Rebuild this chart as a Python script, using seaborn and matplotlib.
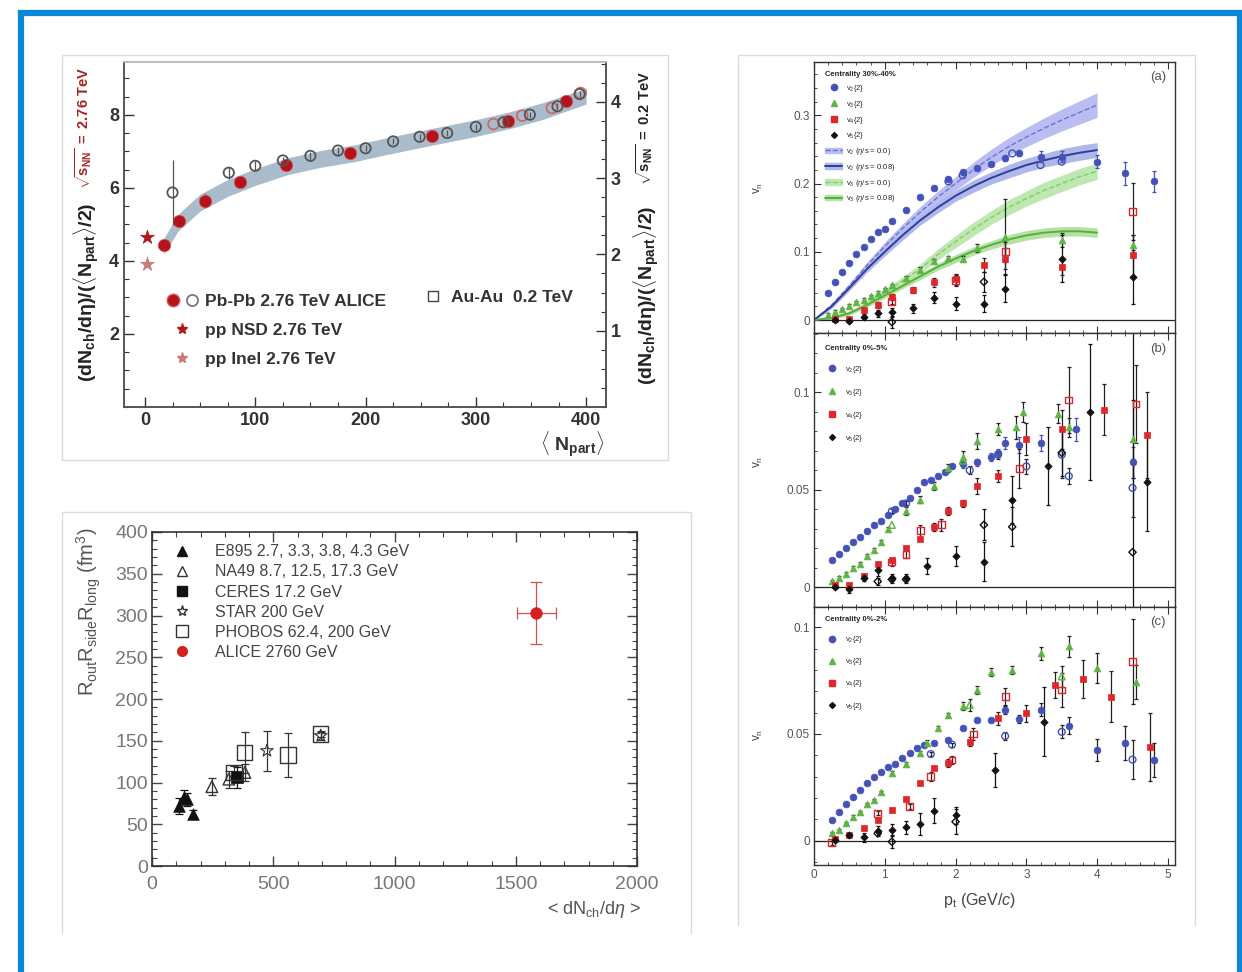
import numpy as np
import pandas as pd
import matplotlib
matplotlib.use('Agg')
import matplotlib.pyplot as plt
import seaborn as sns
from matplotlib.patches import Rectangle, Patch
from matplotlib.lines import Line2D
from matplotlib.legend_handler import HandlerTuple
from matplotlib.ticker import MultipleLocator

sns.set_theme(style='ticks')
plt.rcParams['font.family'] = ['Liberation Sans', 'DejaVu Sans']
plt.rcParams['mathtext.fontset'] = 'custom'
plt.rcParams['mathtext.rm'] = 'Liberation Sans'
plt.rcParams['mathtext.it'] = 'Liberation Sans:italic'
plt.rcParams['mathtext.bf'] = 'Liberation Sans:bold'
plt.rcParams['xtick.direction'] = 'in'
plt.rcParams['ytick.direction'] = 'in'

# ---------------- top left: dNch/deta per participant pair ----------------
pbpb_npart = [17, 31, 54, 86, 128, 186, 260, 329, 382]
pbpb_val = [4.43, 5.10, 5.65, 6.15, 6.63, 6.95, 7.43, 7.84, 8.37]
pbpb_err = [0.12, 0.12, 0.2, 0.12, 0.12, 0.1, 0.1, 0.1, 0.1]
pbpb_open_npart = [316, 342, 369, 395]
pbpb_open_val = [7.75, 7.98, 8.19, 8.60]
auau_npart = [25, 76, 100, 125, 150, 175, 200, 225, 249, 274, 300, 325, 349, 374, 394]
auau_val = [2.81, 3.07, 3.16, 3.23, 3.29, 3.36, 3.39, 3.48, 3.54, 3.59, 3.67, 3.73, 3.83, 3.94, 4.10]  # right axis
auau_err = [0.42, 0.08, 0.06, 0.05, 0.05, 0.04, 0.04, 0.04, 0.04, 0.04, 0.04, 0.04, 0.04, 0.04, 0.04]
pp_npart = [2]
pp_nsd = [4.66]
pp_inel = [3.93]
band_x = [17, 30, 50, 75, 100, 130, 160, 190, 220, 260, 300, 330, 360, 400]
band_lo = [4.18, 4.82, 5.37, 5.77, 6.07, 6.37, 6.57, 6.72, 6.92, 7.17, 7.41, 7.62, 7.87, 8.30]
band_hi = [4.62, 5.28, 5.83, 6.23, 6.53, 6.83, 7.03, 7.18, 7.38, 7.63, 7.87, 8.08, 8.33, 8.73]

# ---------------- bottom left: HBT volume ----------------
e895_x = [110, 130, 145, 170]
e895_y = [72, 83, 80, 62]
e895_err = [10, 8, 8, 5]
na49_x = [247, 317, 383]
na49_y = [95, 104, 112]
na49_err = [10, 10, 10]
ceres_x = [350]
ceres_y = [106]
ceres_err = [12]
star_x = [474, 696]
star_y = [138, 156]
star_err = [24, 5]
phobos_x = [338, 383, 561, 696]
phobos_y = [112, 136, 133, 158]
phobos_err = [8, 25, 26, 4]
alice_x = [1584]
alice_y = [303]
alice_xerr = [80]
alice_yerr = [37]

# ---------------- right (a): centrality 30-40% ----------------
a_v2_pt = [0.2, 0.3, 0.4, 0.5, 0.6, 0.7, 0.8, 0.9, 1.0, 1.1, 1.3, 1.5, 1.7, 1.9, 2.1, 2.3, 2.5, 2.7, 2.9, 3.2, 3.5, 4.0, 4.4, 4.8]
a_v2 = [0.040, 0.055, 0.070, 0.084, 0.096, 0.107, 0.119, 0.129, 0.134, 0.145, 0.161, 0.180, 0.193, 0.207, 0.217, 0.223, 0.229, 0.237, 0.244, 0.239, 0.239, 0.232, 0.215, 0.203]
a_v2_err = [0.002, 0.002, 0.002, 0.002, 0.002, 0.002, 0.002, 0.002, 0.002, 0.002, 0.002, 0.002, 0.002, 0.002, 0.003, 0.003, 0.003, 0.004, 0.004, 0.008, 0.008, 0.010, 0.017, 0.015]
a_v2o_pt = [1.9, 2.1, 2.8, 3.2, 3.5]
a_v2o = [0.203, 0.212, 0.244, 0.227, 0.232]
a_v3_pt = [0.2, 0.3, 0.4, 0.5, 0.6, 0.7, 0.8, 0.9, 1.0, 1.1, 1.3, 1.5, 1.7, 1.9, 2.1, 2.3, 2.7, 3.5, 4.5]
a_v3 = [0.008, 0.012, 0.016, 0.021, 0.026, 0.030, 0.035, 0.040, 0.045, 0.051, 0.062, 0.074, 0.087, 0.091, 0.090, 0.106, 0.122, 0.117, 0.110]
a_v3_err = [0.002, 0.002, 0.002, 0.002, 0.002, 0.002, 0.002, 0.002, 0.002, 0.002, 0.003, 0.003, 0.003, 0.003, 0.004, 0.006, 0.055, 0.010, 0.015]
a_v4_pt = [0.3, 0.5, 0.7, 0.9, 1.1, 1.4, 1.7, 2.0, 2.4, 2.7, 3.5, 4.5]
a_v4 = [0.001, 0.002, 0.015, 0.022, 0.034, 0.044, 0.055, 0.060, 0.081, 0.090, 0.078, 0.095]
a_v4_err = [0.002, 0.002, 0.003, 0.004, 0.004, 0.005, 0.006, 0.008, 0.010, 0.015, 0.012, 0.030]
a_v4o_pt = [1.1, 2.0, 2.7, 4.5]
a_v4o = [0.027, 0.058, 0.100, 0.159]
a_v4o_err = [0.004, 0.008, 0.015, 0.042]
a_v5_pt = [0.3, 0.5, 0.7, 0.9, 1.1, 1.4, 1.7, 2.0, 2.4, 2.7, 3.5, 4.5]
a_v5 = [0.000, -0.002, 0.005, 0.010, 0.012, 0.017, 0.033, 0.024, 0.024, 0.046, 0.090, 0.063]
a_v5_err = [0.002, 0.003, 0.004, 0.005, 0.006, 0.007, 0.008, 0.010, 0.012, 0.020, 0.035, 0.040]
a_v5o_pt = [1.1, 2.4]
a_v5o = [-0.003, 0.056]
a_v5o_err = [0.008, 0.015]
hyd_pt = [0.0, 0.25, 0.5, 0.75, 1.0, 1.25, 1.5, 1.75, 2.0, 2.25, 2.5, 2.75, 3.0, 3.25, 3.5, 3.75, 4.0]
v2_ideal = [0.0, 0.022, 0.050, 0.080, 0.108, 0.134, 0.158, 0.180, 0.200, 0.220, 0.238, 0.254, 0.268, 0.281, 0.293, 0.304, 0.315]
v2_ideal_w = [0.001, 0.003, 0.004, 0.005, 0.006, 0.007, 0.008, 0.009, 0.010, 0.011, 0.012, 0.013, 0.014, 0.015, 0.016, 0.017, 0.018]
v2_visc = [0.0, 0.020, 0.047, 0.075, 0.100, 0.124, 0.146, 0.165, 0.182, 0.196, 0.208, 0.218, 0.227, 0.234, 0.240, 0.245, 0.249]
v2_visc_w = [0.001, 0.003, 0.004, 0.005, 0.006, 0.007, 0.007, 0.008, 0.008, 0.009, 0.009, 0.010, 0.010, 0.010, 0.011, 0.011, 0.011]
v3_ideal = [0.0, 0.003, 0.010, 0.024, 0.040, 0.057, 0.075, 0.096, 0.115, 0.133, 0.150, 0.165, 0.178, 0.190, 0.200, 0.210, 0.218]
v3_ideal_w = [0.001, 0.002, 0.003, 0.004, 0.005, 0.006, 0.007, 0.008, 0.009, 0.010, 0.010, 0.011, 0.011, 0.012, 0.012, 0.012, 0.012]
v3_visc = [0.0, 0.003, 0.010, 0.022, 0.036, 0.050, 0.064, 0.078, 0.090, 0.101, 0.110, 0.118, 0.124, 0.128, 0.130, 0.130, 0.128]
v3_visc_w = [0.001, 0.002, 0.003, 0.003, 0.004, 0.004, 0.005, 0.005, 0.006, 0.006, 0.006, 0.007, 0.007, 0.007, 0.007, 0.007, 0.007]

# ---------------- right (b): centrality 0-5% ----------------
b_v2_pt = [0.25, 0.35, 0.45, 0.55, 0.65, 0.75, 0.85, 0.95, 1.05, 1.15, 1.25, 1.35, 1.45, 1.55, 1.65, 1.75, 1.85, 1.95, 2.1, 2.3, 2.5, 2.6, 2.7, 2.9, 3.2, 3.7, 4.5]
b_v2 = [0.014, 0.017, 0.020, 0.023, 0.026, 0.029, 0.032, 0.034, 0.037, 0.040, 0.043, 0.046, 0.050, 0.054, 0.055, 0.057, 0.059, 0.062, 0.063, 0.064, 0.067, 0.069, 0.074, 0.073, 0.074, 0.081, 0.064]
b_v2_err = [0.001, 0.001, 0.001, 0.001, 0.001, 0.001, 0.001, 0.001, 0.001, 0.001, 0.001, 0.001, 0.001, 0.001, 0.001, 0.001, 0.001, 0.001, 0.002, 0.002, 0.002, 0.002, 0.003, 0.004, 0.004, 0.006, 0.008]
b_v2o_pt = [1.1, 1.3, 2.2, 2.6, 3.0, 3.5, 3.6, 4.5]
b_v2o = [0.039, 0.043, 0.060, 0.068, 0.062, 0.068, 0.057, 0.051]
b_v2o_err = [0.001, 0.001, 0.002, 0.002, 0.004, 0.012, 0.004, 0.015]
b_v3_pt = [0.25, 0.35, 0.45, 0.55, 0.65, 0.75, 0.85, 0.95, 1.05, 1.3, 1.5, 1.7, 1.9, 2.1, 2.3, 2.6, 2.85, 2.95, 3.45, 3.6, 4.5]
b_v3 = [0.003, 0.005, 0.007, 0.010, 0.012, 0.016, 0.019, 0.023, 0.030, 0.039, 0.045, 0.052, 0.061, 0.067, 0.075, 0.081, 0.082, 0.090, 0.089, 0.082, 0.076]
b_v3_err = [0.001, 0.001, 0.001, 0.001, 0.001, 0.001, 0.001, 0.001, 0.001, 0.002, 0.002, 0.002, 0.002, 0.003, 0.004, 0.003, 0.006, 0.005, 0.005, 0.005, 0.020]
b_v3o_pt = [1.1, 2.1]
b_v3o = [0.032, 0.065]
b_v4_pt = [0.3, 0.5, 0.7, 0.9, 1.1, 1.3, 1.5, 1.7, 1.9, 2.1, 2.3, 2.6, 3.0, 3.5, 4.1, 4.7]
b_v4 = [0.001, 0.001, 0.006, 0.012, 0.014, 0.020, 0.025, 0.031, 0.039, 0.043, 0.052, 0.057, 0.076, 0.081, 0.091, 0.078]
b_v4_err = [0.001, 0.001, 0.001, 0.001, 0.001, 0.001, 0.001, 0.002, 0.002, 0.002, 0.004, 0.003, 0.008, 0.010, 0.013, 0.022]
b_v4o_pt = [1.1, 1.3, 1.5, 1.8, 2.9, 3.6, 4.55]
b_v4o = [0.013, 0.017, 0.029, 0.032, 0.061, 0.096, 0.094]
b_v4o_err = [0.002, 0.002, 0.003, 0.003, 0.010, 0.017, 0.020]
b_v5_pt = [0.3, 0.5, 0.7, 0.9, 1.1, 1.3, 1.6, 2.0, 2.4, 2.8, 3.3, 3.9, 4.7]
b_v5 = [0.000, -0.001, 0.005, 0.009, 0.005, 0.005, 0.011, 0.016, 0.013, 0.045, 0.062, 0.090, 0.054]
b_v5_err = [0.001, 0.002, 0.002, 0.003, 0.002, 0.002, 0.004, 0.005, 0.010, 0.012, 0.020, 0.035, 0.025]
b_v5o_pt = [0.9, 1.1, 1.3, 2.4, 2.8, 3.5, 4.5]
b_v5o = [0.003, 0.004, 0.004, 0.032, 0.031, 0.069, 0.018]
b_v5o_err = [0.002, 0.002, 0.002, 0.008, 0.010, 0.012, 0.140]

# ---------------- right (c): centrality 0-2% ----------------
c_v2_pt = [0.25, 0.35, 0.45, 0.55, 0.65, 0.75, 0.85, 0.95, 1.05, 1.15, 1.25, 1.35, 1.45, 1.55, 1.7, 1.9, 2.1, 2.3, 2.5, 2.7, 2.9, 3.2, 3.6, 4.0, 4.4, 4.8]
c_v2 = [0.0097, 0.0133, 0.0172, 0.0203, 0.0237, 0.0272, 0.0297, 0.0323, 0.0347, 0.036, 0.0386, 0.041, 0.0433, 0.0448, 0.0456, 0.0472, 0.0527, 0.0566, 0.0566, 0.0613, 0.057, 0.0613, 0.0538, 0.0425, 0.0456, 0.038]
c_v2_err = [0.0005, 0.0005, 0.0005, 0.0005, 0.0005, 0.0005, 0.0005, 0.0005, 0.0005, 0.0005, 0.0005, 0.0005, 0.0005, 0.0005, 0.0005, 0.0005, 0.001, 0.001, 0.001, 0.002, 0.002, 0.003, 0.004, 0.005, 0.008, 0.008]
c_v2o_pt = [1.65, 1.95, 2.7, 3.5, 4.5]
c_v2o = [0.0406, 0.045, 0.049, 0.051, 0.038]
c_v2o_err = [0.001, 0.001, 0.002, 0.003, 0.009]
c_v3_pt = [0.25, 0.35, 0.45, 0.55, 0.65, 0.75, 0.85, 0.95, 1.1, 1.3, 1.5, 1.6, 1.75, 1.9, 2.1, 2.3, 2.5, 2.8, 3.2, 3.6, 4.0, 4.55]
c_v3 = [0.0034, 0.005, 0.0081, 0.0113, 0.0136, 0.0172, 0.019, 0.023, 0.0316, 0.036, 0.041, 0.046, 0.0527, 0.059, 0.063, 0.0706, 0.079, 0.080, 0.0878, 0.091, 0.081, 0.0745]
c_v3_err = [0.0005, 0.0005, 0.0005, 0.0005, 0.0005, 0.0005, 0.0005, 0.0005, 0.001, 0.001, 0.001, 0.001, 0.001, 0.001, 0.002, 0.002, 0.002, 0.002, 0.003, 0.005, 0.007, 0.008]
c_v3o_pt = [2.2, 3.5]
c_v3o = [0.0636, 0.077]
c_v3o_err = [0.003, 0.005]
c_v4_pt = [0.3, 0.5, 0.7, 0.9, 1.1, 1.3, 1.5, 1.7, 1.9, 2.2, 2.6, 3.0, 3.4, 3.8, 4.2, 4.75]
c_v4 = [0.0006, 0.0027, 0.0058, 0.0097, 0.0144, 0.0194, 0.0269, 0.0339, 0.0363, 0.0464, 0.0573, 0.0597, 0.073, 0.0758, 0.0675, 0.044]
c_v4_err = [0.001, 0.001, 0.001, 0.001, 0.001, 0.001, 0.001, 0.001, 0.002, 0.002, 0.003, 0.004, 0.006, 0.009, 0.012, 0.016]
c_v4o_pt = [0.25, 0.9, 1.35, 1.65, 1.95, 2.25, 2.7, 3.5, 4.5]
c_v4o = [-0.001, 0.0128, 0.016, 0.030, 0.0378, 0.050, 0.0675, 0.0706, 0.084]
c_v4o_err = [0.001, 0.001, 0.001, 0.002, 0.002, 0.003, 0.004, 0.008, 0.020]
c_v5_pt = [0.3, 0.5, 0.7, 0.9, 1.1, 1.3, 1.5, 1.7, 2.0, 2.55, 3.25]
c_v5 = [0.0003, 0.0027, 0.0016, 0.0047, 0.005, 0.0063, 0.0078, 0.0141, 0.012, 0.033, 0.0558]
c_v5_err = [0.001, 0.001, 0.002, 0.002, 0.003, 0.003, 0.005, 0.006, 0.004, 0.008, 0.016]
c_v5o_pt = [0.9, 1.1, 2.0]
c_v5o = [0.0034, -0.0005, 0.0089]
c_v5o_err = [0.001, 0.003, 0.006]

W, H = 1242, 972
fig = plt.figure(figsize=(W / 100, H / 100), dpi=100)


def frac(x0, y0, x1, y1):
    return [x0 / W, 1 - y1 / H, (x1 - x0) / W, (y1 - y0) / H]


def fx(x):
    return x / W


def fy(y):
    return 1 - y / H


def draw(ax, x, y, err=None, marker='o', color='k', s=24, hollow=False,
         ecol=None, edge=None, lw=1.0, cap=1.5, z=3, xerr=None):
    if err is not None or xerr is not None:
        ax.errorbar(x, y, yerr=err, xerr=xerr, fmt='none', ecolor=ecol or color,
                    elinewidth=0.9, capsize=cap, capthick=0.9, zorder=z - 0.5)
    if hollow:
        sns.scatterplot(x=x, y=y, ax=ax, marker=marker, s=s, color='none',
                        edgecolor=color, linewidth=lw, legend=False, zorder=z)
    else:
        sns.scatterplot(x=x, y=y, ax=ax, marker=marker, s=s, color=color,
                        edgecolor=edge or color, linewidth=0.5, legend=False, zorder=z)


def outline(x0, y0, x1, y1, bottom=True):
    xs = [x0, x0, x1, x1]
    ys = [y1, y0, y0, y1]
    if bottom:
        xs.append(x0)
        ys.append(y1)
    fig.add_artist(Line2D([fx(v) for v in xs], [fy(v) for v in ys], color='#dcdcdc', lw=1.0,
                          transform=fig.transFigure))


# blue frame and light image borders
fig.add_artist(Rectangle((fx(21), -0.1), fx(1239.5) - fx(21), fy(13) + 0.1, fill=False,
                         ec='#0b87d8', lw=4.5, transform=fig.transFigure))
outline(62, 55, 668, 460)
outline(62, 512, 691, 933, bottom=False)
outline(738, 55, 1195, 925, bottom=False)

# ======================= top left =======================
dark_red = '#b3141c'
ax1 = fig.add_axes(frac(124, 62, 606, 407))
ax1.fill_between(band_x, band_lo, band_hi, color='#a9bccb', lw=0, zorder=1)
draw(ax1, pbpb_npart, pbpb_val, err=pbpb_err, marker='o', color=dark_red, edge='#d9575c',
     s=80, ecol='#c04040', cap=0, z=5)
draw(ax1, pbpb_open_npart, pbpb_open_val, marker='o', color='#cc6a6a', hollow=True, s=60, lw=1.3, z=5)
draw(ax1, pp_npart, pp_nsd, marker='*', color='#b01818', s=110, z=5)
draw(ax1, pp_npart, pp_inel, err=[0.1], marker='*', color='#c97a7a', s=110, ecol='#c97a7a', cap=0, z=5)
ax1.set_xlim(-19, 418)
ax1.set_ylim(0, 9.45)
ax1.set_xticks([0, 100, 200, 300, 400])
ax1.set_yticks([2, 4, 6, 8])
ax1.xaxis.set_minor_locator(MultipleLocator(25))
ax1.yaxis.set_minor_locator(MultipleLocator(0.5))
ax1.tick_params(which='major', length=7, width=1, labelsize=13, colors='#333')
ax1.tick_params(which='minor', length=3.5, width=0.8, colors='#333')
ax1.tick_params(axis='y', right=False)

ax1r = ax1.twinx()
draw(ax1r, auau_npart, auau_val, err=auau_err, marker='o', color='#555555', hollow=True,
     s=55, lw=1.3, ecol='#555555', cap=0, z=4)
ax1r.set_ylim(0, 4.52)
ax1r.set_yticks([1, 2, 3, 4])
ax1r.yaxis.set_minor_locator(MultipleLocator(0.25))
ax1r.tick_params(which='major', length=7, width=1, labelsize=13, colors='#333', direction='in')
ax1r.tick_params(which='minor', length=3.5, width=0.8, colors='#333', direction='in')
for a in (ax1, ax1r):
    for sp in a.spines.values():
        sp.set_color('#555')
        sp.set_linewidth(1.2)
    a.spines['top'].set_color('#bbb')
    for t in a.get_xticklabels() + a.get_yticklabels():
        t.set_fontweight('bold')

h_pb = (Line2D([], [], marker='o', ls='', mfc=dark_red, mec='#d9575c', ms=9),
        Line2D([], [], marker='o', ls='', mfc='none', mec='#777', mew=1.3, ms=8))
h_nsd = Line2D([], [], marker='*', ls='', color='#b01818', ms=8)
h_inel = Line2D([], [], marker='*', ls='', color='#c97a7a', ms=8)
leg1 = ax1r.legend([h_pb, h_nsd, h_inel], ['Pb-Pb 2.76 TeV ALICE', 'pp NSD 2.76 TeV', 'pp Inel 2.76 TeV'],
                   handler_map={tuple: HandlerTuple(ndivide=None, pad=0.2)}, loc='center left',
                   bbox_to_anchor=(0.085, 0.222), frameon=False, borderpad=0, borderaxespad=0,
                   prop=dict(weight='bold', size=12.5), labelspacing=0.78, handlelength=2.0,
                   handletextpad=0.3)
for t in leg1.get_texts():
    t.set_color('#333')
ax1r.add_artist(leg1)
h_au = Line2D([], [], marker='s', ls='', mfc='none', mec='#444', mew=1.0, ms=7)
leg2 = ax1r.legend([h_au], ['Au-Au  0.2 TeV'], loc='center left', bbox_to_anchor=(0.62, 0.318),
                   frameon=False, borderpad=0, borderaxespad=0, prop=dict(weight='bold', size=12.5),
                   handlelength=1.2, handletextpad=0.4)
for t in leg2.get_texts():
    t.set_color('#333')

ylab_main = r'$\mathbf{(dN_{ch}/d\eta)/(\langle N_{part}\rangle/2)}$'
fig.text(fx(86), fy(292), ylab_main, rotation=90, ha='center', va='center', fontsize=14, color='#222')
fig.text(fx(84), fy(128), r'$\mathbf{\sqrt{s_{NN}}\ =\ 2.76\ TeV}$', rotation=90, ha='center',
         va='center', fontsize=10.5, color='#a52424')
fig.text(fx(646), fy(295), ylab_main, rotation=90, ha='center', va='center', fontsize=14, color='#222')
fig.text(fx(645), fy(128), r'$\mathbf{\sqrt{s_{NN}}\ =\ 0.2\ TeV}$', rotation=90, ha='center',
         va='center', fontsize=10.5, color='#222')
fig.text(fx(572), fy(444), r'$\mathbf{\langle\ N_{part}\rangle}$', ha='center', va='center',
         fontsize=14, color='#333')

# ======================= bottom left =======================
ax2 = fig.add_axes(frac(152, 532, 637, 866))
draw(ax2, e895_x, e895_y, err=e895_err, marker='^', color='#111', s=70, cap=3)
draw(ax2, na49_x, na49_y, err=na49_err, marker='^', color='#333', hollow=True, s=70, lw=1.0, cap=3)
draw(ax2, ceres_x, ceres_y, err=ceres_err, marker='s', color='#111', s=80, cap=3)
draw(ax2, phobos_x, phobos_y, err=phobos_err, marker='s', color='#333', hollow=True, s=120, lw=1.0, cap=3)
draw(ax2, star_x, star_y, err=star_err, marker='*', color='#333', hollow=True, s=90, lw=0.8, cap=3)
draw(ax2, alice_x, alice_y, err=alice_yerr, xerr=alice_xerr, marker='o', color='#d62020',
     s=70, ecol='#d05050', cap=4, z=5)
ax2.set_xlim(0, 2000)
ax2.set_ylim(0, 400)
ax2.set_xticks([0, 500, 1000, 1500, 2000])
ax2.set_yticks([0, 50, 100, 150, 200, 250, 300, 350, 400])
ax2.xaxis.set_minor_locator(MultipleLocator(100))
ax2.yaxis.set_minor_locator(MultipleLocator(10))
ax2.tick_params(which='both', top=True, right=True, colors='#444', labelcolor='#777')
ax2.tick_params(which='major', length=7, width=1.0, labelsize=14)
ax2.tick_params(axis='y', pad=3)
ax2.tick_params(axis='x', pad=7)
ax2.tick_params(which='minor', length=3.5, width=0.8)
for sp in ax2.spines.values():
    sp.set_color('#333')
    sp.set_linewidth(1.2)
hb = [Line2D([], [], marker='^', ls='', color='#111', ms=7),
      Line2D([], [], marker='^', ls='', mfc='none', mec='#333', ms=7),
      Line2D([], [], marker='s', ls='', color='#111', ms=7),
      Line2D([], [], marker='*', ls='', mfc='none', mec='#333', ms=8),
      Line2D([], [], marker='s', ls='', mfc='none', mec='#333', ms=8),
      Line2D([], [], marker='o', ls='', color='#d62020', ms=7)]
lb = ['E895 2.7, 3.3, 3.8, 4.3 GeV', 'NA49 8.7, 12.5, 17.3 GeV', 'CERES 17.2 GeV',
      'STAR 200 GeV', 'PHOBOS 62.4, 200 GeV', 'ALICE 2760 GeV']
leg3 = ax2.legend(hb, lb, loc='center left', bbox_to_anchor=(0.045, 0.79), frameon=False,
                  borderpad=0, borderaxespad=0, fontsize=11.5, labelspacing=0.32,
                  handlelength=1.0, handletextpad=1.6)
for t in leg3.get_texts():
    t.set_color('#444')
fig.text(fx(89), fy(612), r'R$_{\rm out}$R$_{\rm side}$R$_{\rm long}$ (fm$^3$)', rotation=90,
         ha='center', va='center', fontsize=14.5, color='#555')
fig.text(fx(594), fy(909), r'< dN$_{\rm ch}$/d$\eta$ >', ha='center', va='center',
         fontsize=13, color='#555')

# ======================= right panels =======================
c_blue, c_green, c_red, c_black = '#4452b8', '#5fb544', '#e0262a', '#111111'
axa = fig.add_axes(frac(814, 62, 1175, 333))
axb = fig.add_axes(frac(814, 333, 1175, 607))
axc = fig.add_axes(frac(814, 607, 1175, 865))

# hydro curves (a)
axa.fill_between(hyd_pt, np.subtract(v2_ideal, v2_ideal_w), np.add(v2_ideal, v2_ideal_w),
                 color='#b9bdf2', lw=0, zorder=1)
axa.fill_between(hyd_pt, np.subtract(v2_visc, v2_visc_w), np.add(v2_visc, v2_visc_w),
                 color='#b0b8ea', lw=0, zorder=1)
axa.fill_between(hyd_pt, np.subtract(v3_ideal, v3_ideal_w), np.add(v3_ideal, v3_ideal_w),
                 color='#bfe8b0', lw=0, zorder=1)
axa.fill_between(hyd_pt, np.subtract(v3_visc, v3_visc_w), np.add(v3_visc, v3_visc_w),
                 color='#b4e2a4', lw=0, zorder=1)
sns.lineplot(x=hyd_pt, y=v2_ideal, ax=axa, color='#6a72d4', lw=1.0, linestyle='--', zorder=2)
sns.lineplot(x=hyd_pt, y=v2_visc, ax=axa, color='#2e3d9e', lw=1.4, zorder=2)
sns.lineplot(x=hyd_pt, y=v3_ideal, ax=axa, color='#86c86e', lw=1.0, linestyle='--', zorder=2)
sns.lineplot(x=hyd_pt, y=v3_visc, ax=axa, color='#58ad3c', lw=1.4, zorder=2)

draw(axa, a_v2_pt, a_v2, err=a_v2_err, marker='o', color=c_blue)
draw(axa, a_v2o_pt, a_v2o, marker='o', color=c_blue, hollow=True)
draw(axa, a_v3_pt, a_v3, err=a_v3_err, marker='^', color=c_green, ecol='#222')
draw(axa, a_v4_pt, a_v4, err=a_v4_err, marker='s', color=c_red, ecol='#222')
draw(axa, a_v4o_pt, a_v4o, err=a_v4o_err, marker='s', color=c_red, hollow=True, ecol='#222')
draw(axa, a_v5_pt, a_v5, err=a_v5_err, marker='D', color=c_black, s=14)
draw(axa, a_v5o_pt, a_v5o, err=a_v5o_err, marker='D', color=c_black, s=14, hollow=True)

draw(axb, b_v2_pt, b_v2, err=b_v2_err, marker='o', color=c_blue)
draw(axb, b_v2o_pt, b_v2o, err=b_v2o_err, marker='o', color=c_blue, hollow=True, ecol='#222')
draw(axb, b_v3_pt, b_v3, err=b_v3_err, marker='^', color=c_green, ecol='#222')
draw(axb, b_v3o_pt, b_v3o, marker='^', color=c_green, hollow=True)
draw(axb, b_v4_pt, b_v4, err=b_v4_err, marker='s', color=c_red, ecol='#222')
draw(axb, b_v4o_pt, b_v4o, err=b_v4o_err, marker='s', color=c_red, hollow=True, ecol='#222')
draw(axb, b_v5_pt, b_v5, err=b_v5_err, marker='D', color=c_black, s=14)
draw(axb, b_v5o_pt, b_v5o, err=b_v5o_err, marker='D', color=c_black, s=14, hollow=True)

draw(axc, c_v2_pt, c_v2, err=c_v2_err, marker='o', color=c_blue, ecol='#222')
draw(axc, c_v2o_pt, c_v2o, err=c_v2o_err, marker='o', color=c_blue, hollow=True, ecol='#222')
draw(axc, c_v3_pt, c_v3, err=c_v3_err, marker='^', color=c_green, ecol='#222')
draw(axc, c_v3o_pt, c_v3o, err=c_v3o_err, marker='^', color=c_green, hollow=True, ecol='#222')
draw(axc, c_v4_pt, c_v4, err=c_v4_err, marker='s', color=c_red, ecol='#222')
draw(axc, c_v4o_pt, c_v4o, err=c_v4o_err, marker='s', color=c_red, hollow=True, ecol='#222')
draw(axc, c_v5_pt, c_v5, err=c_v5_err, marker='D', color=c_black, s=14)
draw(axc, c_v5o_pt, c_v5o, err=c_v5o_err, marker='D', color=c_black, s=14, hollow=True)

axa.set_ylim(-0.019, 0.378)
axb.set_ylim(-0.0101, 0.1304)
axc.set_ylim(-0.0114, 0.1095)
axa.set_yticks([0, 0.1, 0.2, 0.3], labels=['0', '0.1', '0.2', '0.3'])
axb.set_yticks([0, 0.05, 0.1], labels=['0', '0.05', '0.1'])
axc.set_yticks([0, 0.05, 0.1], labels=['0', '0.05', '0.1'])
axa.yaxis.set_minor_locator(MultipleLocator(0.02))
axb.yaxis.set_minor_locator(MultipleLocator(0.01))
axc.yaxis.set_minor_locator(MultipleLocator(0.01))
tags = ['(a)', '(b)', '(c)']
for i, a in enumerate((axa, axb, axc)):
    a.set_xlim(0, 5.1)
    a.set_xticks([0, 1, 2, 3, 4, 5])
    a.xaxis.set_minor_locator(MultipleLocator(0.2))
    a.axhline(0, color='#222', lw=0.9, zorder=1.5)
    a.tick_params(which='both', top=True, right=False, colors='#333', labelcolor='#555')
    a.tick_params(which='major', length=5, width=0.8, labelsize=8.5, pad=3)
    a.tick_params(which='minor', length=2.5, width=0.6)
    for sp in a.spines.values():
        sp.set_color('#333')
        sp.set_linewidth(1.0)
    a.text(0.975, 0.965, tags[i], transform=a.transAxes, ha='right', va='top', fontsize=9.5, color='#555')
    if i < 2:
        a.tick_params(labelbottom=False)

# legends of right panels
pts = [Line2D([], [], marker='o', ls='', color=c_blue, ms=4.5),
       Line2D([], [], marker='^', ls='', color=c_green, ms=4.5),
       Line2D([], [], marker='s', ls='', color=c_red, ms=4.5),
       Line2D([], [], marker='D', ls='', color=c_black, ms=3)]
pts_lab = [r'v$_2${2}', r'v$_3${2}', r'v$_4${2}', r'v$_5${2}']
hyd_h = [(Patch(color='#b9bdf2'), Line2D([], [], color='#6a72d4', ls='--', lw=1.0)),
         (Patch(color='#b0b8ea'), Line2D([], [], color='#2e3d9e', lw=1.4)),
         (Patch(color='#bfe8b0'), Line2D([], [], color='#86c86e', ls='--', lw=1.0)),
         (Patch(color='#b4e2a4'), Line2D([], [], color='#58ad3c', lw=1.4))]
hyd_lab = [r'v$_2$ ($\eta$/s = 0.0)', r'v$_2$ ($\eta$/s = 0.08)', r'v$_3$ ($\eta$/s = 0.0)', r'v$_3$ ($\eta$/s = 0.08)']
la = axa.legend(pts + hyd_h, pts_lab + hyd_lab, title='Centrality 30%-40%', loc='upper left',
                bbox_to_anchor=(0.015, 0.985), frameon=False, fontsize=5.5, title_fontsize=5.5,
                labelspacing=0.62, handlelength=2.3, handletextpad=0.5, borderpad=0.2,
                alignment='left', handler_map={tuple: HandlerTuple(ndivide=1)})
la.get_title().set_fontweight('bold')
lbx = axb.legend(pts, pts_lab, title='Centrality 0%-5%', loc='upper left', bbox_to_anchor=(0.015, 0.975),
                 frameon=False, fontsize=5.5, title_fontsize=5.5, labelspacing=1.55, handlelength=2.0,
                 handletextpad=0.7, borderpad=0.2, alignment='left')
lbx.get_title().set_fontweight('bold')
lcx = axc.legend(pts, pts_lab, title='Centrality 0%-2%', loc='upper left', bbox_to_anchor=(0.015, 0.985),
                 frameon=False, fontsize=5.5, title_fontsize=5.5, labelspacing=1.45, handlelength=2.0,
                 handletextpad=0.7, borderpad=0.2, alignment='left')
lcx.get_title().set_fontweight('bold')

for yy in (188, 462, 735):
    fig.text(fx(758), fy(yy), r'v$_{\rm n}$', rotation=90, ha='center', va='center', fontsize=8.5, color='#444')
fig.text(fx(980), fy(900), r'p$_{\rm t}$ (GeV/$\mathbf{\mathit{c}}$)', ha='center', va='center',
         fontsize=11.5, color='#444')

fig.savefig('out.png', dpi=100)
